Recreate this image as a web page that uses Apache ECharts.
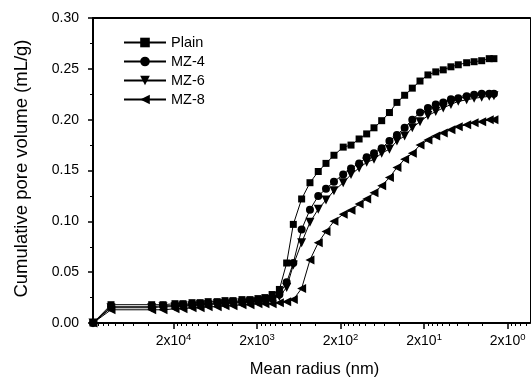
<!DOCTYPE html>
<html>
<head>
<meta charset="utf-8">
<script src="https://cdn.jsdelivr.net/npm/echarts@6/dist/echarts.min.js"></script>
<style>
  html, body { margin: 0; padding: 0; background: #fff; }
  #chart { width: 532px; height: 385px; }
</style>
</head>
<body>
<div id="chart"></div>
<script>
// mean radius (nm), shared by all four samples
const radius = [184000, 112000, 36500, 26700, 19200, 15400, 12000, 9600, 7700, 6000,
  4840, 3880, 3030, 2430, 1950, 1610, 1320, 1080, 884, 736,
  585, 465, 370, 299, 240, 186, 150, 120, 97.4, 79.6,
  64.4, 52.0, 42.3, 34.2, 27.7, 22.4, 18.0, 14.5, 11.8, 9.55,
  7.80, 6.19, 5.04, 4.09, 3.32, 2.92];

const plain = [0, 0.018, 0.018, 0.018, 0.019, 0.019, 0.020, 0.020, 0.021, 0.021,
  0.022, 0.022, 0.023, 0.023, 0.024, 0.025, 0.028, 0.033, 0.059, 0.097,
  0.122, 0.138, 0.149, 0.157, 0.165, 0.173, 0.175, 0.181, 0.186, 0.192,
  0.199, 0.207, 0.217, 0.224, 0.231, 0.238, 0.244, 0.247, 0.249, 0.252,
  0.254, 0.256, 0.257, 0.258, 0.260, 0.260];

const mz4 = [0, 0.016, 0.016, 0.017, 0.017, 0.018, 0.018, 0.019, 0.019, 0.020,
  0.020, 0.021, 0.021, 0.022, 0.022, 0.023, 0.024, 0.028, 0.040, 0.059,
  0.092, 0.1115, 0.125, 0.132, 0.139, 0.146, 0.152, 0.157, 0.163, 0.167,
  0.172, 0.179, 0.185, 0.192, 0.200, 0.207, 0.2115, 0.215, 0.217, 0.220,
  0.221, 0.223, 0.2245, 0.2255, 0.2255, 0.2255];

const mz6 = [0, 0.015, 0.015, 0.016, 0.016, 0.017, 0.017, 0.018, 0.018, 0.019,
  0.019, 0.020, 0.020, 0.021, 0.021, 0.022, 0.023, 0.026, 0.035, 0.057,
  0.079, 0.099, 0.112, 0.121, 0.130, 0.138, 0.146, 0.1525, 0.158, 0.161,
  0.167, 0.171, 0.179, 0.184, 0.192, 0.198, 0.204, 0.208, 0.2115, 0.215,
  0.218, 0.2195, 0.221, 0.222, 0.223, 0.2235];

const mz8 = [0, 0.013, 0.013, 0.013, 0.014, 0.014, 0.015, 0.015, 0.016, 0.016,
  0.017, 0.017, 0.018, 0.018, 0.019, 0.019, 0.019, 0.020, 0.021, 0.023,
  0.034, 0.062, 0.079, 0.090, 0.100, 0.107, 0.111, 0.117, 0.122, 0.128,
  0.135, 0.143, 0.153, 0.161, 0.167, 0.175, 0.180, 0.184, 0.187, 0.190,
  0.193, 0.195, 0.197, 0.198, 0.200, 0.200];

// x tick labels sit at 2x10^n
const majorTicks = [2, 20, 200, 2000, 20000];
const tickExp = ['0', '1', '2', '3', '4'];
// minor ticks: linear steps of 2x10^(n-1) below each major
const minorTicks = [];
[1, 10, 100, 1000, 10000, 100000].forEach(d => {
  [1.8, 1.6, 1.4, 1.2, 1.0, 0.8, 0.6, 0.4].forEach(k => minorTicks.push(+(k * d).toPrecision(3)));
});

const FONT = '"Liberation Sans", Arial, sans-serif';
const X_MIN = 1.08, X_MAX = 184000;

const pairs = vals => radius.map((r, i) => [r, vals[i]]);

const series = [
  {name: 'Plain', data: pairs(plain), symbol: 'rect', symbolSize: 7, symbolRotate: 0},
  {name: 'MZ-4', data: pairs(mz4), symbol: 'circle', symbolSize: 8, symbolRotate: 0},
  {name: 'MZ-6', data: pairs(mz6), symbol: 'triangle', symbolSize: 9, symbolRotate: 180},
  {name: 'MZ-8', data: pairs(mz8), symbol: 'triangle', symbolSize: 9, symbolRotate: 90},
].map(s => ({
  ...s,
  type: 'line',
  xAxisIndex: 0,
  yAxisIndex: 0,
  showAllSymbol: true,
  animation: false,
  lineStyle: {color: '#000', width: 1},
  itemStyle: {color: '#000'},
}));

const chart = echarts.init(document.getElementById('chart'), null, {renderer: 'canvas'});
chart.setOption({
  backgroundColor: '#fff',
  animation: false,
  grid: {left: 93, right: 2, top: 18, bottom: 62},
  legend: {
    orient: 'vertical',
    left: 118,
    top: 30,
    itemWidth: 42,
    itemHeight: 12,
    itemGap: 4,
    textStyle: {fontFamily: FONT, fontSize: 14.5, lineHeight: 15, color: '#000'},
    data: ['Plain', 'MZ-4', 'MZ-6', 'MZ-8'],
  },
  xAxis: [
    {
      type: 'log',
      inverse: true,
      min: X_MIN,
      max: X_MAX,
      position: 'bottom',
      name: 'Mean radius (nm)',
      nameLocation: 'middle',
      nameGap: 38,
      nameTextStyle: {fontFamily: FONT, fontSize: 16.5, color: '#000', padding: [0, 0, 0, 6]},
      axisLine: {lineStyle: {color: '#000', width: 2}},
      axisTick: {inside: false, length: 6, lineStyle: {color: '#000', width: 1.5}, customValues: majorTicks},
      axisLabel: {
        customValues: majorTicks,
        margin: 9,
        fontFamily: FONT,
        fontSize: 14,
        color: '#000',
        formatter: v => '2x10{s|' + tickExp[majorTicks.indexOf(Math.round(v * 1000) / 1000)] + '}',
        rich: {s: {fontSize: 9.5, fontFamily: FONT, color: '#000', padding: [0, 0, 8, 0]}},
      },
      splitLine: {show: false},
    },
    {
      type: 'log',
      inverse: true,
      min: X_MIN,
      max: X_MAX,
      position: 'bottom',
      axisLine: {show: false},
      axisTick: {inside: false, length: 3, lineStyle: {color: '#000', width: 1}, customValues: minorTicks},
      axisLabel: {show: false},
      splitLine: {show: false},
    },
    {
      type: 'value',
      position: 'top',
      axisLine: {show: true, onZero: false, lineStyle: {color: '#000', width: 2}},
      axisTick: {show: false},
      axisLabel: {show: false},
      splitLine: {show: false},
    },
  ],
  yAxis: [
    {
      type: 'value',
      min: 0,
      max: 0.3,
      interval: 0.05,
      name: 'Cumulative pore volume (mL/g)',
      nameLocation: 'middle',
      nameGap: 62,
      nameTextStyle: {fontFamily: FONT, fontSize: 18.5, color: '#000', padding: [0, 0, 0, 4]},
      axisLine: {show: true, lineStyle: {color: '#000', width: 2}},
      axisTick: {show: true, inside: false, length: 5, lineStyle: {color: '#000', width: 1.5}},
      minorTick: {show: true, splitNumber: 2, length: 3, lineStyle: {color: '#000', width: 1}},
      axisLabel: {
        margin: 14,
        fontFamily: FONT,
        fontSize: 14,
        color: '#000',
        formatter: v => v.toFixed(2),
      },
      splitLine: {show: false},
    },
    {
      type: 'value',
      position: 'right',
      axisLine: {show: true, onZero: false, lineStyle: {color: '#000', width: 1}},
      axisTick: {show: false},
      axisLabel: {show: false},
      splitLine: {show: false},
    },
  ],
  series: series,
});
</script>
</body>
</html>
